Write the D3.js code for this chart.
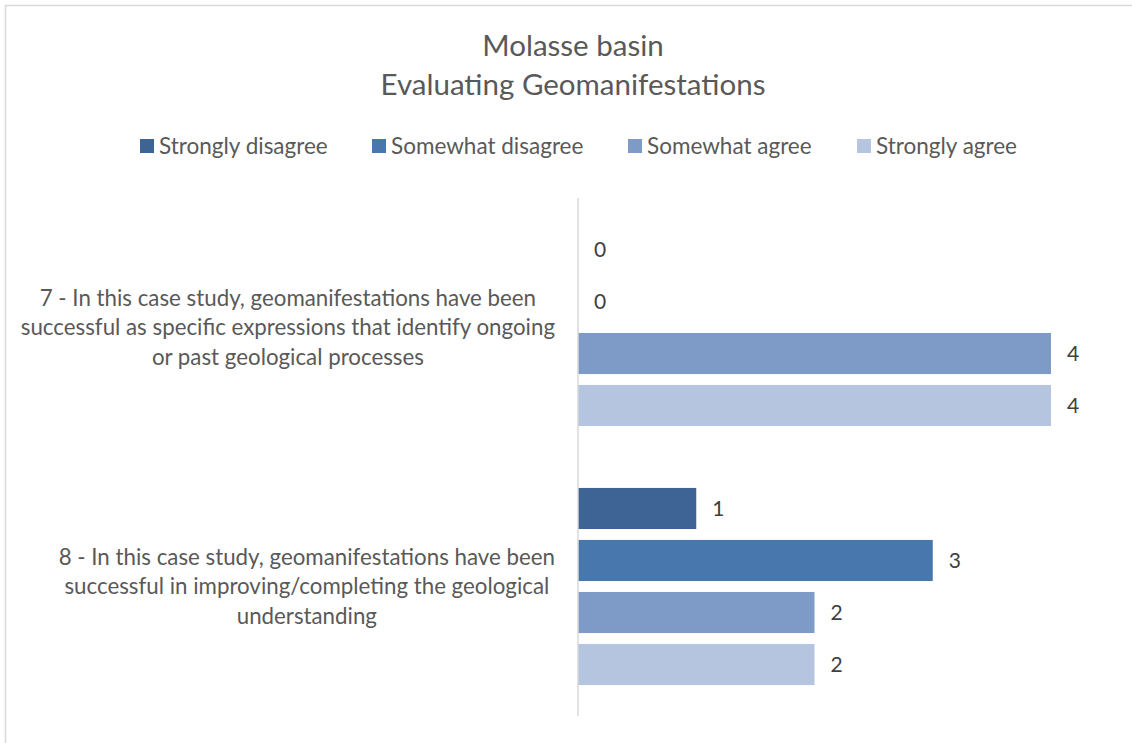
<!DOCTYPE html>
<html>
<head>
<meta charset="utf-8">
<script src="https://cdn.jsdelivr.net/npm/d3@7"></script>
<style>
  html, body { margin: 0; padding: 0; background: #fff; }
  svg { display: block; font-family: Lato, "Open Sans", sans-serif; }
</style>
</head>
<body>
<svg id="chart" width="1132" height="743"></svg>
<script>
// Survey responses, Molasse basin
const titleLines = ["Molasse basin", "Evaluating Geomanifestations"];
const categories = ["q7", "q8"];
const categoryLabels = [
  ["7 - In this case study, geomanifestations have been",
   "successful as specific expressions that identify ongoing",
   "or past geological processes"],
  ["8 - In this case study, geomanifestations have been",
   "successful in improving/completing the geological",
   "understanding"]
];
const seriesNames = ["Strongly disagree", "Somewhat disagree", "Somewhat agree", "Strongly agree"];
const seriesColors = ["#3d6495", "#4877ae", "#7e9bc7", "#b5c5df"];
const stronglyDisagree = [0, 1];
const somewhatDisagree = [0, 3];
const somewhatAgree = [4, 2];
const stronglyAgree = [4, 2];
const seriesValues = [stronglyDisagree, somewhatDisagree, somewhatAgree, stronglyAgree];

const svg = d3.select("#chart");
const W = 1132, H = 743;
const textColor = "#595959";

// chart area frame
svg.append("rect")
  .attr("x", 5.5).attr("y", 5.5)
  .attr("width", W + 20).attr("height", H + 20)
  .attr("fill", "#fff").attr("stroke", "#d9d9d9").attr("stroke-width", 1.5);

// title
svg.append("g").selectAll("text")
  .data(titleLines)
  .join("text")
  .attr("x", 573)
  .attr("y", (d, i) => 56 + i * 39)
  .attr("text-anchor", "middle")
  .attr("fill", textColor)
  .attr("font-size", 29.5)
  .text(d => d);

// legend
const legendX = [140, 372, 628, 857];
const legend = svg.append("g").selectAll("g")
  .data(seriesNames)
  .join("g")
  .attr("transform", (d, i) => `translate(${legendX[i]},146)`);
legend.append("rect")
  .attr("x", 0).attr("y", -7).attr("width", 14).attr("height", 14)
  .attr("fill", (d, i) => seriesColors[i]);
legend.append("text")
  .attr("x", 19).attr("y", 7.5)
  .attr("fill", textColor)
  .attr("font-size", 22.5)
  .text(d => d);

// plot area
const plot = { left: 578, right: 1051, top: 198, bottom: 716 };
const x = d3.scaleLinear().domain([0, 4]).range([plot.left, plot.right]);
const y0 = d3.scaleBand().domain(categories).range([plot.top, plot.bottom]).paddingInner(0).paddingOuter(0);
const y1 = d3.scaleBand().domain(seriesNames)
  .range([0, y0.bandwidth()])
  .paddingInner(0.21).paddingOuter(0.595);

const rows = [];
categories.forEach((c, ci) => {
  seriesNames.forEach((s, si) => {
    rows.push({ cat: c, series: s, si, value: seriesValues[si][ci] });
  });
});

const bars = svg.append("g");
bars.selectAll("rect")
  .data(rows)
  .join("rect")
  .attr("x", x(0))
  .attr("y", d => y0(d.cat) + y1(d.series))
  .attr("width", d => x(d.value) - x(0))
  .attr("height", y1.bandwidth())
  .attr("fill", d => seriesColors[d.si]);

// value labels
bars.selectAll("text")
  .data(rows)
  .join("text")
  .attr("x", d => x(d.value) + 16)
  .attr("y", d => y0(d.cat) + y1(d.series) + y1.bandwidth() / 2)
  .attr("dy", "0.36em")
  .attr("fill", "#404040")
  .attr("font-size", 21)
  .text(d => d.value);

// category axis line
svg.append("line")
  .attr("x1", plot.left).attr("x2", plot.left)
  .attr("y1", plot.top).attr("y2", plot.bottom)
  .attr("stroke", "#d9d9d9").attr("stroke-width", 1.5);

// category labels: each wrapped block sits flush against the axis,
// with its lines centred inside the block
const labelRight = 555;
const catG = svg.append("g").selectAll("text")
  .data(categories)
  .join("text")
  .attr("text-anchor", "middle")
  .attr("fill", textColor)
  .attr("font-size", 22.3);
catG.selectAll("tspan")
  .data((d, i) => categoryLabels[i].map((line, li) => ({ line, li, cat: d })))
  .join("tspan")
  .attr("y", d => y0(d.cat) + y0.bandwidth() / 2 - 29.5 + d.li * 29.5)
  .attr("dy", "0.35em")
  .text(d => d.line);
catG.each(function () {
  const spans = d3.select(this).selectAll("tspan");
  let maxW = 0;
  spans.each(function () { maxW = Math.max(maxW, this.getComputedTextLength()); });
  spans.attr("x", labelRight - maxW / 2);
});
</script>
</body>
</html>
